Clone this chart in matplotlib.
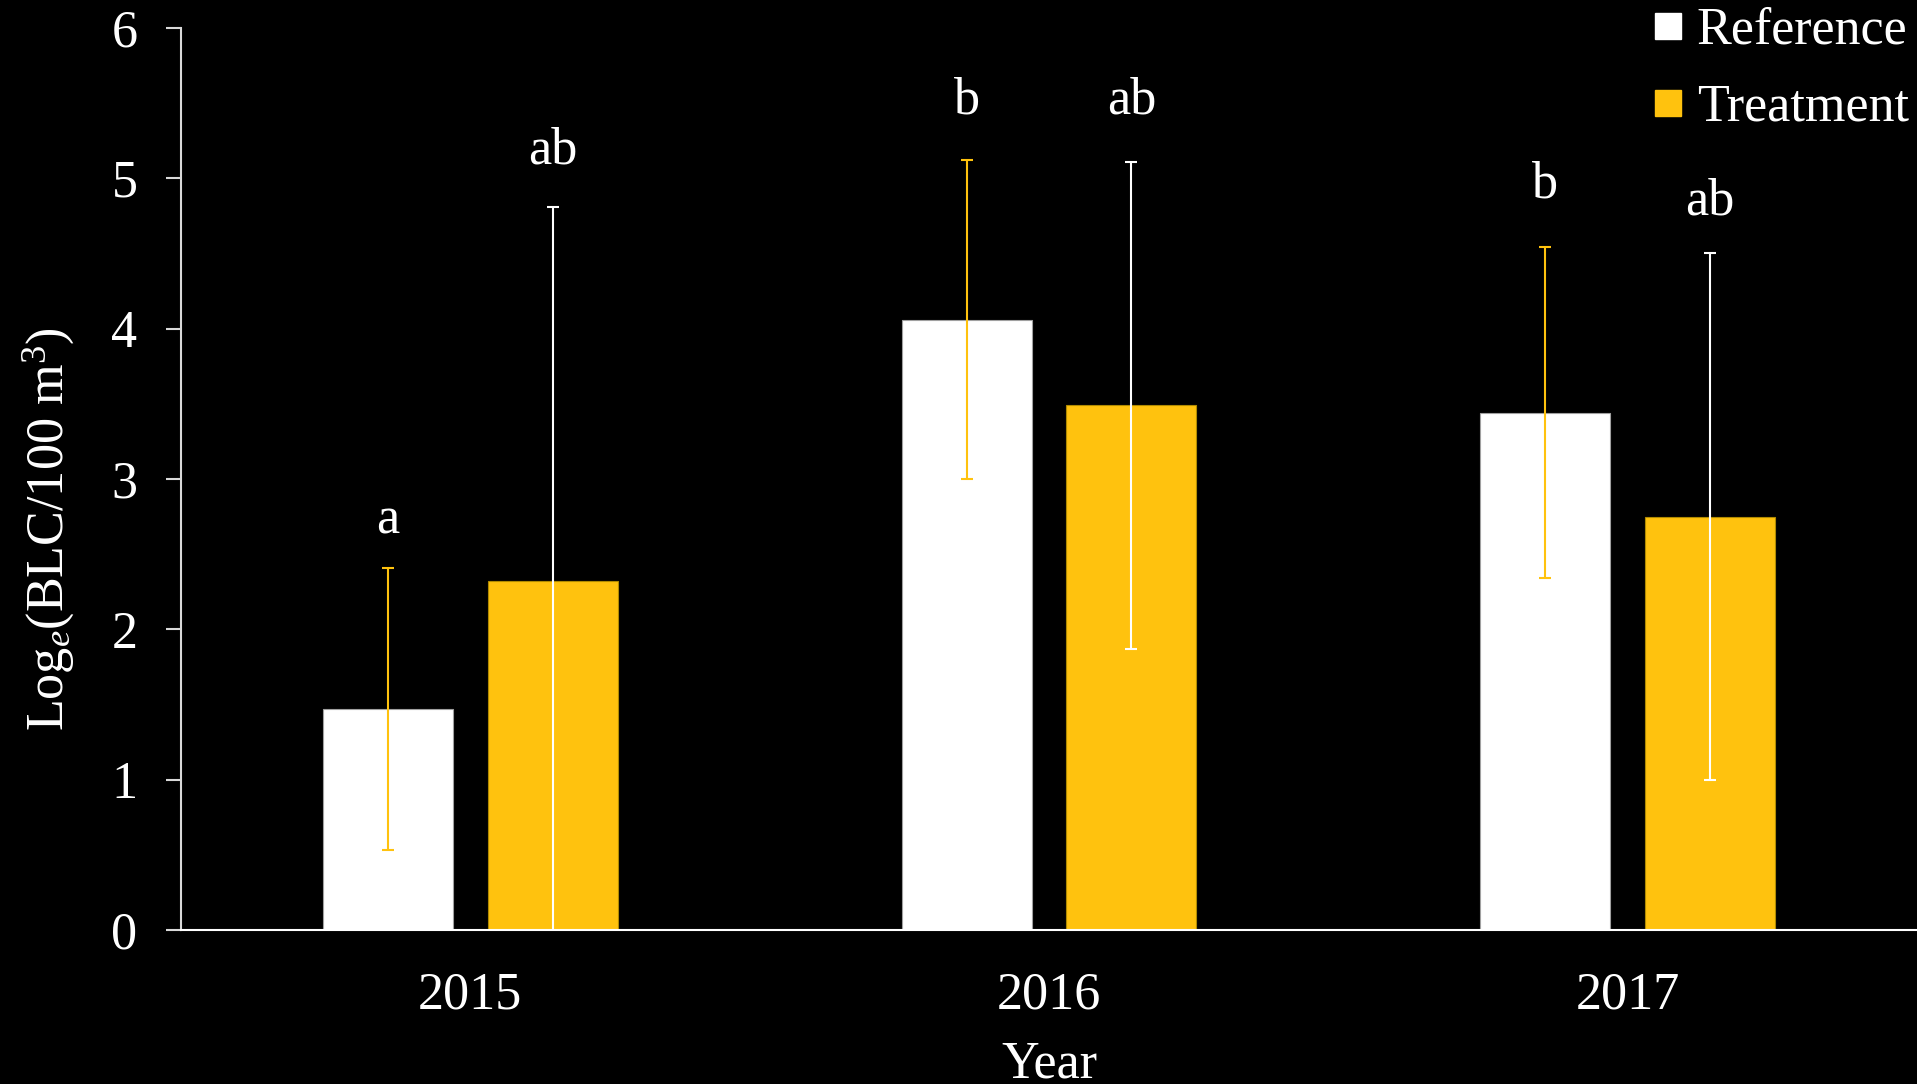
import matplotlib
matplotlib.use("Agg")
import matplotlib.pyplot as plt
from matplotlib.lines import Line2D
import numpy as np

FONT_SIZE = 37.5
YELLOW = '#FFC20E'

years = ['2015', '2016', '2017']
reference_mean = [1.47, 4.06, 3.44]
reference_err = [0.94, 1.06, 1.10]
treatment_mean = [2.32, 3.49, 2.75]
treatment_err = [2.49, 1.62, 1.75]

# significance letters and the height of their baseline
reference_letters = ['a', 'b', 'b']
reference_letter_y = [2.64, 5.43, 4.87]
treatment_letters = ['ab', 'ab', 'ab']
treatment_letter_y = [5.10, 5.43, 4.76]

plt.rcParams['font.family'] = ['Liberation Serif', 'DejaVu Serif']
plt.rcParams['mathtext.fontset'] = 'custom'
plt.rcParams['mathtext.rm'] = 'Liberation Serif'
plt.rcParams['mathtext.it'] = 'Liberation Serif:italic'
plt.rcParams['font.size'] = FONT_SIZE

fig = plt.figure(figsize=(19.17, 10.84), dpi=100, facecolor='black')
ax = fig.add_axes([0.0944, 0.1421, 0.9056, 0.8321], facecolor='black')

x = np.arange(len(years))
offset = 0.1424
width = 0.2246

ax.bar(x - offset, reference_mean, width, color='white', edgecolor='#a0a0a0', linewidth=0.8)
ax.bar(x + offset, treatment_mean, width, color=YELLOW, edgecolor='#b08a00', linewidth=0.8)

ax.errorbar(x - offset, reference_mean, yerr=reference_err, fmt='none',
            ecolor=YELLOW, elinewidth=1.5, capsize=4.5, capthick=1.5)
ax.errorbar(x + offset, treatment_mean, yerr=treatment_err, fmt='none',
            ecolor='white', elinewidth=1.5, capsize=4.5, capthick=1.5)

for i in range(len(years)):
    ax.text(x[i] - offset, reference_letter_y[i], reference_letters[i],
            ha='center', va='baseline', color='white')
    ax.text(x[i] + offset, treatment_letter_y[i], treatment_letters[i],
            ha='center', va='baseline', color='white')

ax.set_xlim(-0.5, 2.5)
ax.set_ylim(0, 6)
ax.set_xticks(x)
ax.set_xticklabels(years)
ax.set_yticks(range(0, 7))

ax.spines['top'].set_visible(False)
ax.spines['right'].set_visible(False)
ax.spines['left'].set_color('#d9d9d9')
ax.spines['left'].set_linewidth(1.5)
ax.spines['bottom'].set_color('white')
ax.spines['bottom'].set_linewidth(1.5)

ax.tick_params(axis='x', length=0, pad=30, colors='white', labelsize=FONT_SIZE)
ax.tick_params(axis='y', length=10.8, width=1.5, pad=20.5, color='#d9d9d9',
               labelcolor='white', labelsize=FONT_SIZE)

ax.set_xlabel('Year', color='white', labelpad=15)
ax.set_ylabel(r'Log$_{\mathit{e}}$(BLC/100 m$^{3}$)', color='white', va='center')
ax.yaxis.set_label_coords(-0.0766, 0.444)

handles = [
    Line2D([], [], marker='s', linestyle='none', markersize=18.7, color='white'),
    Line2D([], [], marker='s', linestyle='none', markersize=18.7, color=YELLOW),
]
leg = fig.legend(handles, ['Reference', 'Treatment'], loc='upper right',
                 bbox_to_anchor=(1.012, 1.0226), frameon=False, borderpad=0.1,
                 handlelength=0.6, handletextpad=0.25, labelspacing=0.56,
                 fontsize=FONT_SIZE)
for t in leg.get_texts():
    t.set_color('white')

fig.savefig('out.png', dpi=100, facecolor='black')
